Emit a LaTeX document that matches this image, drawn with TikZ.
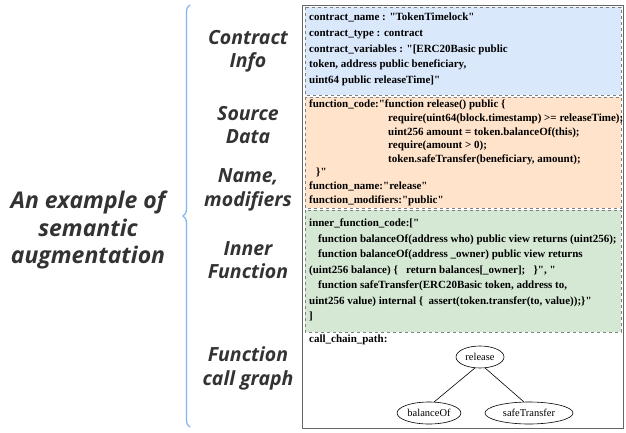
\documentclass[tikz,border=0pt]{standalone}
\usepackage{fontspec}
\setmainfont{Liberation Serif}
\newfontfamily\codefont{Liberation Serif}
\newfontfamily\labelfont{Open Sans}
\usepackage{xcolor}
\usetikzlibrary{positioning,shapes.geometric,decorations.pathreplacing}
\definecolor{infoblue}{HTML}{DAE8FC}
\definecolor{srcorange}{HTML}{FFE3CA}
\definecolor{innergreen}{HTML}{D5E8D4}
\definecolor{bracecol}{HTML}{7EB6F2}
\definecolor{labelgray}{HTML}{333333}
\tikzset{
  part/.style={font=\labelfont\bfseries\itshape\fontsize{19.5}{23.5}\selectfont,text=labelgray,align=center},
  code/.style={align=left,anchor=north west,inner sep=0pt},
  databox/.style={draw=gray,dashed,line width=0.6pt},
  callnode/.style={ellipse,draw,line width=0.6pt,font=\codefont\fontsize{10.5}{12}\selectfont,minimum height=22pt,inner sep=1pt}
}

\begin{document}
\begin{tikzpicture}[x=1pt,y=-1pt]
\useasboundingbox (0,0) rectangle (626,433);

\draw[gray!80!black,line width=0.8pt] (302.5,5) rectangle (623,428);
\draw[databox,fill=infoblue] (305,7) rectangle (621,95);
\draw[databox,fill=srcorange] (305,97) rectangle (621,208);
\draw[databox,fill=innergreen] (305,210) rectangle (621,332);

\node[code,font=\codefont\bfseries\fontsize{11}{15.7}\selectfont] (info) at (309,13){contract\_name : "TokenTimelock"\\
contract\_type : contract\\
contract\_variables : "[ERC20Basic public\\
token, address public beneficiary,\\
uint64 public releaseTime]"};

\node[code,font=\codefont\bfseries\fontsize{11}{13.6}\selectfont] (source) at (309,100){function\_code:"function release() public \{\\
\hspace*{79pt}require(uint64(block.timestamp) >= releaseTime);\\
\hspace*{79pt}uint256 amount = token.balanceOf(this);\\
\hspace*{79pt}require(amount > 0);\\
\hspace*{79pt}token.safeTransfer(beneficiary, amount);\\
\hspace*{7pt}\}"\\
function\_name:"release"\\
function\_modifiers:"public"};

\node[code,font=\codefont\bfseries\fontsize{11}{15.5}\selectfont] (inner) at (309,219){inner\_function\_code:["\\
\hspace*{9pt}function balanceOf(address who) public view returns (uint256);\\
\hspace*{9pt}function balanceOf(address \_owner) public view returns\\
(uint256 balance) \{\ \ \ return balances[\_owner];\ \ \ \}", "\\
\hspace*{9pt}function safeTransfer(ERC20Basic token, address to,\\
uint256 value) internal \{\ \ assert(token.transfer(to, value));\}"\\
]};

\node[code,font=\codefont\bfseries\fontsize{11}{12}\selectfont] (path) at (309,335){call\_chain\_path:};
\node[callnode,minimum width=48pt] (release) at (480,357){release};
\node[callnode,minimum width=62pt] (balance) at (429,413){balanceOf};
\node[callnode,minimum width=88pt] (transfer) at (529,413){safeTransfer};
\draw[line width=0.6pt] (release.245)--(balance.65);
\draw[line width=0.6pt] (release.295)--(transfer.115);

\draw[decorate,decoration={brace,amplitude=7pt},bracecol,line width=1.3pt] (190,427)--(190,5);

\node[part] (contract) at (248,51.5){Contract\\Info};
\node[part] (data) at (248,125){Source\\Data};
\node[part] (name) at (248,190){Name,\\modifiers};
\node[part] (function) at (248,260){Inner\\Function};
\node[part] (graph) at (248,368.5){Function\\call graph};

\node[font=\labelfont\bfseries\itshape\fontsize{23}{27.5}\selectfont,text=labelgray,align=center] (title) at (88,230){An example of\\semantic\\augmentation};
\end{tikzpicture}
\end{document}
